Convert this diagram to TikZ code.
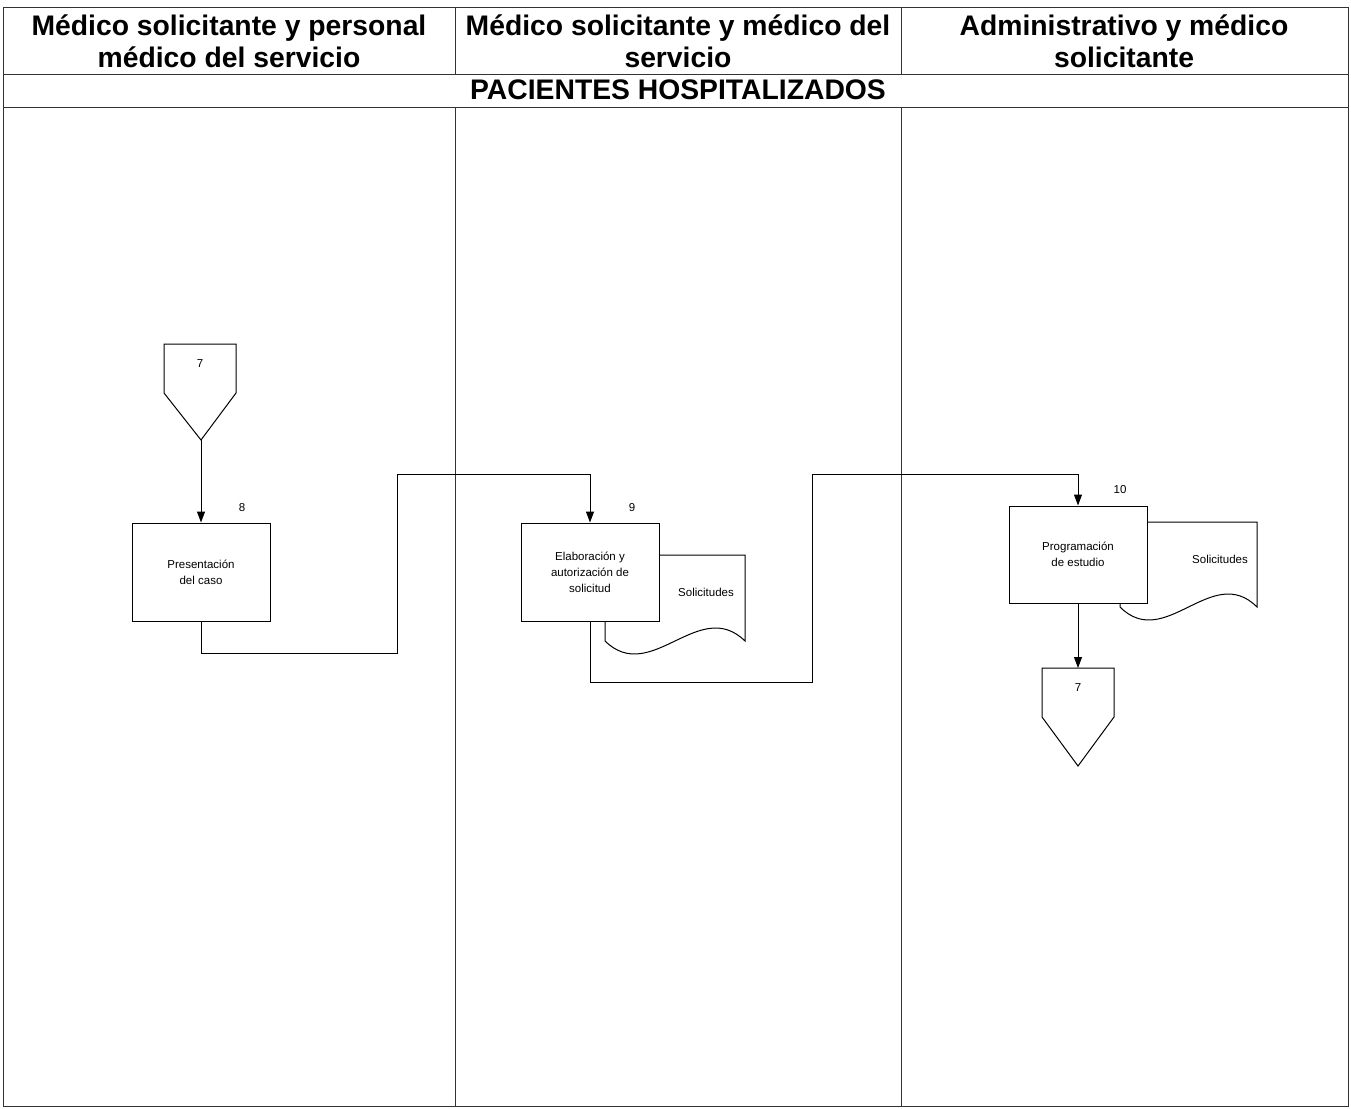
\documentclass[tikz,border=0pt]{standalone}
\usepackage{fontspec}
\setmainfont{Liberation Sans}
\usetikzlibrary{arrows.meta}
\begin{document}
\begin{tikzpicture}[x=1pt,y=-1pt,
 frame/.style={draw=black!80, line width=0.9pt},
 lane/.style={font=\fontsize{28.3}{32}\selectfont\bfseries, align=center, inner sep=0pt},
 title/.style={font=\fontsize{28.3}{32}\selectfont\bfseries, inner sep=0pt},
 proc/.style={draw, line width=1pt, fill=white, minimum width=138pt, minimum height=98pt, font=\fontsize{11.5}{16}\selectfont, align=center, inner sep=0pt},
 small/.style={font=\fontsize{11.5}{13}\selectfont, inner sep=0pt},
 flow/.style={line width=1pt, -{Triangle[length=11pt,width=8pt]}},
 docshape/.style={draw, line width=1pt, fill=white},
 offpage/.style={draw, line width=1pt, fill=white}
]
\useasboundingbox (0,0) rectangle (1351,1108);
\fill[white] (0,0) rectangle (1351,1108);

% frame and lanes
\draw[frame] (3,7) rectangle (1348,1106);
\draw[frame] (3,74) -- (1348,74);
\draw[frame] (3,107) -- (1348,107);
\draw[frame] (455,7) -- (455,74);
\draw[frame] (455,107) -- (455,1106);
\draw[frame] (901,7) -- (901,74);
\draw[frame] (901,107) -- (901,1106);

\node[lane] (h1) at (229,41) {Médico solicitante y personal\\médico del servicio};
\node[lane] (h2) at (678,41) {Médico solicitante y médico del\\servicio};
\node[lane] (h3) at (1124,41) {Administrativo y médico\\solicitante};
\node[title] (pac) at (678,90) {PACIENTES HOSPITALIZADOS};

% off-page connector top
\draw[offpage] (164,344) -- (236,344) -- (236,393) -- (201,440) -- (164,393) -- cycle;
\node[small] (c7a) at (200,364) {7};
\coordinate (c7atip) at (201,440);

% documents (behind boxes)
\draw[docshape] (605,555) -- (745,555) -- (745,641) .. controls (699,596) and (651,686) .. (605,641) -- cycle;
\node[small] (doc9) at (706,592) {Solicitudes};
\draw[docshape] (1120,522) -- (1257,522) -- (1257,607) .. controls (1212,562) and (1165,652) .. (1120,607) -- cycle;
\node[small] (doc10) at (1220,559) {Solicitudes};

% process boxes
\node[proc] (p8) at (201,572) {Presentación\\del caso};
\node[small] (n8) at (242,508) {8};
\node[proc] (p9) at (590,572) {Elaboración y\\autorización de\\solicitud};
\node[small] (n9) at (632,508) {9};
\node[proc, minimum height=97pt] (p10) at (1078,554.5) {Programación\\de estudio};
\node[small] (n10) at (1120,490) {10};

% off-page connector bottom
\draw[offpage] (1042,668) -- (1114,668) -- (1114,717) -- (1078,766) -- (1042,717) -- cycle;
\node[small] (c7b) at (1078,688) {7};
\coordinate (c7btop) at (1078,668);

% connectors
\draw[flow] (c7atip) -- (p8.north);
\draw[flow] (p8.south) -- ++(0,32) -| (397,474) -| (p9.north);
\draw[flow] (p9.south) -- ++(0,61) -| (812,474) -| (p10.north);
\draw[flow] (p10.south) -- (c7btop);
\end{tikzpicture}
\end{document}
